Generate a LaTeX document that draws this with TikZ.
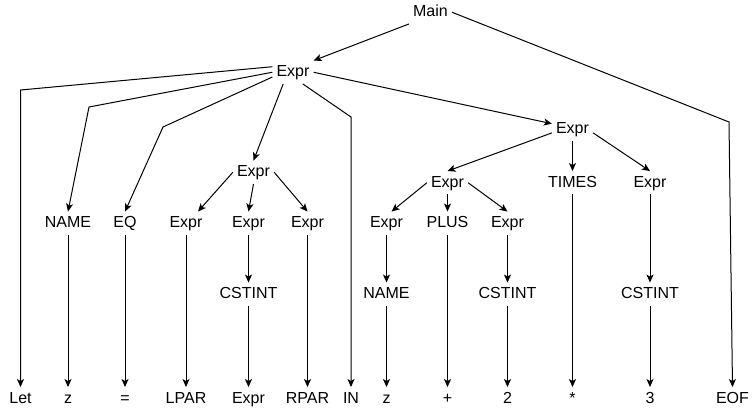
\documentclass[tikz,border=0pt]{standalone}
\usepackage{fontspec}
\setmainfont{Liberation Sans}
\usetikzlibrary{arrows.meta}
\begin{document}
\begin{tikzpicture}[x=1pt,y=-1pt,
  lbl/.style={inner xsep=4pt, inner ysep=4pt, text height=12pt, text depth=3pt, font=\fontsize{16}{19}\selectfont},
  arr/.style={-{Stealth[length=8pt,width=7pt,inset=2pt]}, line width=1pt},
  ln/.style={line width=1pt}]
\useasboundingbox (0,0) rectangle (755,408);
% nodes
\node[lbl] (main) at (430.5,12.25) {Main};
\node[lbl] (e1) at (293,72.25) {Expr};
\node[lbl] (e2) at (572.5,129.25) {Expr};
\node[lbl] (em) at (253.5,172.25) {Expr};
\node[lbl] (ea) at (447.5,182.75) {Expr};
\node[lbl] (times) at (572.5,182.75) {TIMES};
\node[lbl] (eb) at (650,182.75) {Expr};
% middle row
\node[lbl] (name1) at (68,223.25) {NAME};
\node[lbl] (eq) at (125,223.25) {EQ};
\node[lbl] (x1) at (186,223.25) {Expr};
\node[lbl] (x2) at (248.5,223.25) {Expr};
\node[lbl] (x3) at (307.5,223.25) {Expr};
\node[lbl] (ea1) at (386.5,223.25) {Expr};
\node[lbl] (plus) at (447.5,223.25) {PLUS};
\node[lbl] (ea2) at (507.5,223.25) {Expr};
% cstint row
\node[lbl] (cst1) at (248.5,294.25) {CSTINT};
\node[lbl] (name2) at (386.5,294.25) {NAME};
\node[lbl] (cst2) at (507.5,294.25) {CSTINT};
\node[lbl] (cst3) at (650,294.25) {CSTINT};
% bottom row
\node[lbl] (let) at (20.5,398.75) {Let};
\node[lbl] (z1) at (68,398.75) {z};
\node[lbl] (eqs) at (125,398.75) {=};
\node[lbl] (lpar) at (186,398.75) {LPAR};
\node[lbl] (bexpr) at (248.5,398.75) {Expr};
\node[lbl] (rpar) at (307.5,398.75) {RPAR};
\node[lbl] (in) at (351,398.75) {IN};
\node[lbl] (z2) at (386.5,398.75) {z};
\node[lbl] (plusb) at (447.5,398.75) {+};
\node[lbl] (two) at (507.5,398.75) {2};
\node[lbl] (star) at (572.5,398.75) {*};
\node[lbl] (three) at (650,398.75) {3};
\node[lbl] (eof) at (732.5,398.75) {EOF};
% bend points
\coordinate (bLet) at (20.5,90);
\coordinate (bName) at (89,107);
\coordinate (bEq) at (163,127);
\coordinate (bIn) at (351,117);
\coordinate (bEof) at (729,122);
% connectors
\draw[arr] (main.south west) -- (e1.north east);
\draw[arr] (main.east) -- (bEof) -- (eof.north);
\draw[arr] (e1.165) -- (bLet) -- (let.north);
\draw[arr] (e1.west) -- (bName) -- (name1.north);
\draw[arr] (e1.193) -- (bEq) -- (eq.north);
\draw[arr] (e1.230) -- (em.north);
\draw[arr] (e1.310) -- (bIn) -- (in.north);
\draw[arr] (e1.east) -- (e2.165);
\draw[arr] (e2.190) -- (ea.north);
\draw[arr] (e2.south) -- (times.north);
\draw[arr] (e2.350) -- (eb.north);
\draw[arr] (em.west) -- ([xshift=12pt]x1.north);
\draw[arr] (em.south) -- (x2.north);
\draw[arr] (em.east) -- (x3.north);
\draw[arr] (ea.west) -- ([xshift=5pt]ea1.north);
\draw[arr] (ea.south) -- (plus.north);
\draw[arr] (ea.east) -- (ea2.north);
% verticals
\draw[arr] (name1.south) -- (z1.north);
\draw[arr] (eq.south) -- (eqs.north);
\draw[arr] (x1.south) -- (lpar.north);
\draw[arr] (x2.south) -- (cst1.north);
\draw[arr] (cst1.south) -- (bexpr.north);
\draw[arr] (x3.south) -- (rpar.north);
\draw[arr] (ea1.south) -- (name2.north);
\draw[arr] (name2.south) -- (z2.north);
\draw[arr] (plus.south) -- (plusb.north);
\draw[arr] (ea2.south) -- (cst2.north);
\draw[arr] (cst2.south) -- (two.north);
\draw[arr] (times.south) -- (star.north);
\draw[arr] (eb.south) -- (cst3.north);
\draw[arr] (cst3.south) -- (three.north);
\end{tikzpicture}
\end{document}
